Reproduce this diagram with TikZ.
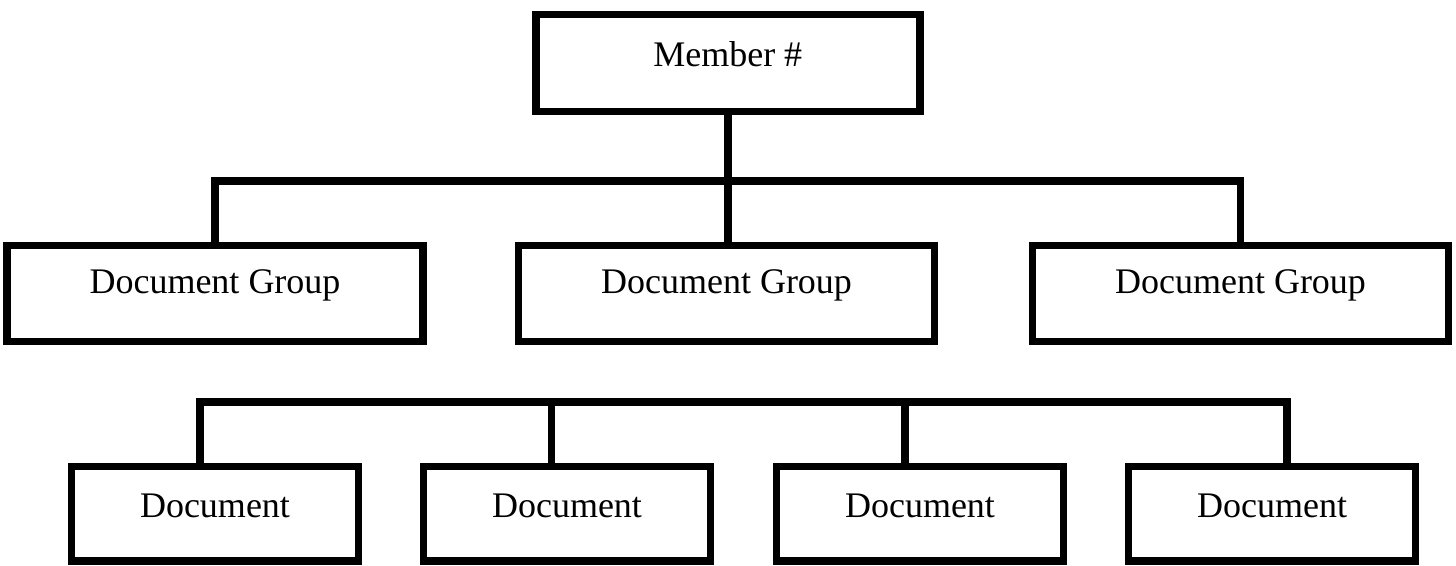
\documentclass[tikz,border=0pt]{standalone}
\usepackage{fontspec}
\setmainfont{Liberation Serif}
\begin{document}
\begin{tikzpicture}[x=1pt,y=-1pt,
  box/.style={draw, rectangle, line width=7.5pt, inner sep=0pt, line join=miter,
              font=\fontsize{36}{40}\selectfont},
  topbox/.style={box, minimum width=384pt, minimum height=97pt, text height=18pt, text depth=10pt},
  groupbox/.style={box, minimum width=416pt, minimum height=96pt, text height=14pt, text depth=14pt},
  docbox/.style={box, minimum width=287pt, minimum height=94.5pt, text height=18pt, text depth=10pt},
  wire/.style={draw, line width=7.5pt, line join=miter}]
\useasboundingbox (0,0) rectangle (1456,565);
\node[topbox] (m) at (727.75,62.75) {Member \#};
\node[groupbox] (g1) at (215,293.5) {Document Group};
\node[groupbox] (g2) at (726.5,293.5) {Document Group};
\node[groupbox] (g3) at (1240.5,293.5) {Document Group};
\node[docbox] (d1) at (215,513.75) {Document};
\node[docbox] (d2) at (567,513.75) {Document};
\node[docbox] (d3) at (920,513.75) {Document};
\node[docbox] (d4) at (1272,513.75) {Document};
\coordinate (bar) at (727,181);
\coordinate (lbar) at (727,402);
\draw[wire] (m.south) -- (m.south |- g2.north);
\draw[wire] (g1.north) |- (bar) -| (g3.north);
\draw[wire] ([xshift=-15pt]d1.north) |- (lbar) -| ([xshift=15pt]d4.north);
\draw[wire] ([xshift=-15.5pt]d2.north) -- ([xshift=-15.5pt]d2.north |- lbar);
\draw[wire] ([xshift=-15pt]d3.north) -- ([xshift=-15pt]d3.north |- lbar);
\end{tikzpicture}
\end{document}
